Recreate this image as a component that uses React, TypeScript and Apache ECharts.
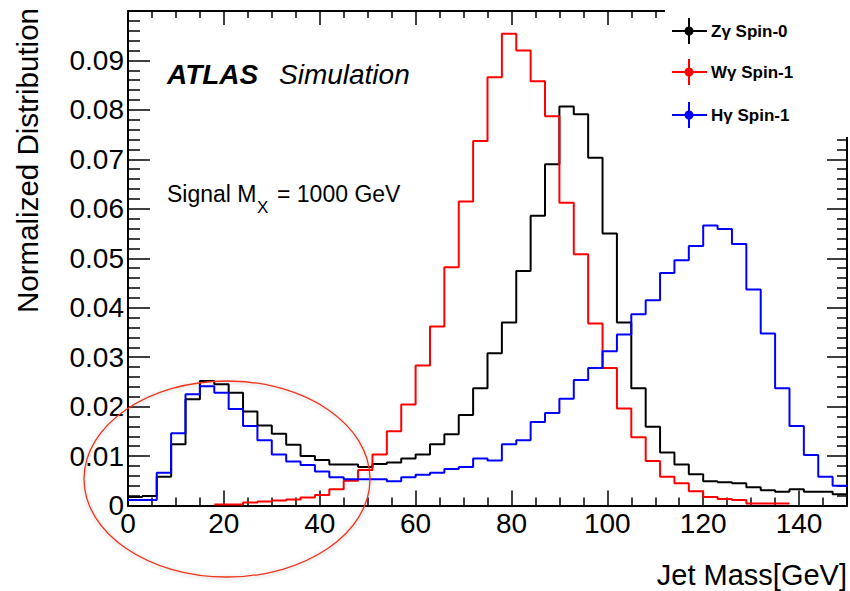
import React, { useEffect, useRef } from 'react';
import * as echarts from 'echarts';

// Jet mass histograms, 3 GeV bins from 0 to 150 GeV (normalized to unit area)
const binWidth = 3;

const zgSpin0: (number | null)[] = [
  0.0017, 0.0019, 0.0058, 0.0124, 0.0215, 0.0252, 0.0245, 0.0228, 0.019, 0.0162,
  0.0145, 0.0123, 0.01, 0.0092, 0.0083, 0.0083, 0.0078, 0.0084, 0.0087, 0.0095,
  0.0103, 0.0124, 0.0144, 0.0183, 0.0237, 0.0308, 0.037, 0.0474, 0.0586, 0.069,
  0.0807, 0.0791, 0.0703, 0.055, 0.037, 0.0237, 0.0159, 0.0107, 0.0083, 0.0063,
  0.0049, 0.0047, 0.0045, 0.0037, 0.0031, 0.0028, 0.0033, 0.0028, 0.0028, 0.0023,
];

const wgSpin1: (number | null)[] = [
  null, null, null, null, null, null, 0.0002, 0.0002, 0.0006, 0.0008,
  0.001, 0.0012, 0.0016, 0.0021, 0.0033, 0.005, 0.0072, 0.0103, 0.015, 0.0204,
  0.0283, 0.0362, 0.0482, 0.0615, 0.0737, 0.0866, 0.0954, 0.092, 0.0858, 0.0787,
  0.0612, 0.0508, 0.0368, 0.0278, 0.0196, 0.0138, 0.009, 0.0058, 0.0045, 0.0029,
  0.0017, 0.0013, 0.0011, 0.0004, 0.0004, 0.0004, null, null, null, null,
];

const hgSpin1: (number | null)[] = [
  0.0011, 0.0011, 0.0066, 0.0146, 0.0225, 0.0241, 0.0228, 0.0195, 0.0161, 0.0132,
  0.0103, 0.0089, 0.0082, 0.0069, 0.0057, 0.0053, 0.0053, 0.0053, 0.0049, 0.0057,
  0.0062, 0.0066, 0.0074, 0.0078, 0.0095, 0.0091, 0.0124, 0.0132, 0.0169, 0.0187,
  0.0216, 0.0254, 0.0278, 0.0312, 0.0346, 0.0387, 0.0415, 0.047, 0.0496, 0.0525,
  0.0566, 0.0559, 0.0529, 0.0437, 0.0348, 0.0237, 0.0161, 0.0102, 0.0058, 0.004,
];

const seriesNames = ['Zγ Spin-0', 'Wγ Spin-1', 'Hγ Spin-1'];
const seriesColors = ['#000000', '#ff0000', '#0000ff'];
const seriesValues = [zgSpin0, wgSpin1, hgSpin1];

const FONT = '"Liberation Sans", Arial, Helvetica, sans-serif';

// Turn per-bin contents into the outline of a step histogram
function toSteps(values: (number | null)[]): [number, number][] {
  const pts: [number, number][] = [];
  values.forEach((v, i) => {
    if (v === null) return;
    pts.push([i * binWidth, v], [(i + 1) * binWidth, v]);
  });
  return pts;
}

const frameLine = { show: true, onZero: false, lineStyle: { color: '#000', width: 2 } };

export default function App() {
  const ref = useRef<HTMLDivElement>(null);

  useEffect(() => {
    if (!ref.current) return;
    const chart = echarts.init(ref.current, undefined, { renderer: 'svg' });

    const legendRows = [31, 72, 115];
    const legendGraphics: any[] = [
      { type: 'rect', z: 100, shape: { x: 665, y: 0, width: 185, height: 137 }, style: { fill: '#fff' } },
    ];
    seriesNames.forEach((name, i) => {
      const y = legendRows[i];
      const c = seriesColors[i];
      legendGraphics.push(
        { type: 'line', z: 101, shape: { x1: 672, y1: y, x2: 707, y2: y }, style: { stroke: c, lineWidth: 2 } },
        { type: 'line', z: 101, shape: { x1: 689, y1: y - 13, x2: 689, y2: y + 13 }, style: { stroke: c, lineWidth: 2 } },
        { type: 'circle', z: 102, shape: { cx: 689, cy: y, r: 4.5 }, style: { fill: c } },
        {
          type: 'text', z: 102, x: 711, y,
          style: { text: name, fontFamily: FONT, fontSize: 17, fontWeight: 'bold', fill: '#000', align: 'left', verticalAlign: 'middle' },
        },
      );
    });

    chart.setOption({
      animation: false,
      backgroundColor: '#fff',
      grid: { left: 128, top: 11, width: 719, height: 494.5, containLabel: false },
      xAxis: [
        {
          type: 'value', position: 'bottom', min: 0, max: 150, interval: 20,
          axisLine: frameLine,
          axisTick: { show: true, inside: true, length: 15, lineStyle: { color: '#000', width: 1.5 } },
          minorTick: { show: true, splitNumber: 4, length: 8, lineStyle: { color: '#000', width: 1.5 } },
          axisLabel: { show: true, fontFamily: FONT, fontSize: 28, color: '#000', margin: 4, showMaxLabel: false },
          splitLine: { show: false },
        },
        {
          type: 'value', position: 'top', min: 0, max: 150, interval: 20,
          axisLine: frameLine,
          axisTick: { show: true, inside: true, length: 14, lineStyle: { color: '#000', width: 1.5 } },
          minorTick: { show: true, splitNumber: 4, length: 7, lineStyle: { color: '#000', width: 1.5 } },
          axisLabel: { show: false },
          splitLine: { show: false },
        },
      ],
      yAxis: [
        {
          type: 'value', position: 'left', min: 0, max: 0.1, interval: 0.01,
          axisLine: frameLine,
          axisTick: { show: true, inside: true, length: 22, lineStyle: { color: '#000', width: 1.5 } },
          minorTick: { show: true, splitNumber: 5, length: 12, lineStyle: { color: '#000', width: 1.5 } },
          axisLabel: {
            show: true, fontFamily: FONT, fontSize: 28, color: '#000', margin: 4, showMaxLabel: false,
            formatter: (v: number) => (v === 0 ? '0' : v.toFixed(2)),
          },
          splitLine: { show: false },
        },
        {
          type: 'value', position: 'right', min: 0, max: 0.1, interval: 0.01,
          axisLine: frameLine,
          axisTick: { show: true, inside: true, length: 20, lineStyle: { color: '#000', width: 1.5 } },
          minorTick: { show: true, splitNumber: 5, length: 10, lineStyle: { color: '#000', width: 1.5 } },
          axisLabel: { show: false },
          splitLine: { show: false },
        },
      ],
      series: seriesValues.map((vals, i) => ({
        type: 'line',
        name: seriesNames[i],
        xAxisIndex: 0,
        yAxisIndex: 0,
        data: toSteps(vals),
        showSymbol: false,
        symbol: 'none',
        lineStyle: { color: seriesColors[i], width: 2 },
        z: 3 + i,
      })),
      graphic: [
        // axis titles
        {
          type: 'text', z: 100, x: 27, y: 8, rotation: Math.PI / 2,
          style: { text: 'Normalized Distribution', fontFamily: FONT, fontSize: 29.5, fill: '#000', align: 'right', verticalAlign: 'middle' },
        },
        {
          type: 'text', z: 100, x: 847, y: 575,
          style: { text: 'Jet Mass[GeV]', fontFamily: FONT, fontSize: 29, fill: '#000', align: 'right', verticalAlign: 'middle' },
        },
        // experiment label
        {
          type: 'text', z: 100, x: 167, y: 74,
          style: { text: 'ATLAS', fontFamily: FONT, fontSize: 28, fontStyle: 'italic', fontWeight: 'bold', fill: '#000', align: 'left', verticalAlign: 'middle' },
        },
        {
          type: 'text', z: 100, x: 279, y: 74,
          style: { text: 'Simulation', fontFamily: FONT, fontSize: 28, fontStyle: 'italic', fill: '#000', align: 'left', verticalAlign: 'middle' },
        },
        // signal mass
        {
          type: 'text', z: 100, x: 167, y: 194,
          style: { text: 'Signal M', fontFamily: FONT, fontSize: 23, fill: '#000', align: 'left', verticalAlign: 'middle' },
        },
        {
          type: 'text', z: 100, x: 257, y: 207,
          style: { text: 'X', fontFamily: FONT, fontSize: 17, fill: '#000', align: 'left', verticalAlign: 'middle' },
        },
        {
          type: 'text', z: 100, x: 277, y: 194,
          style: { text: '= 1000 GeV', fontFamily: FONT, fontSize: 23, fill: '#000', align: 'left', verticalAlign: 'middle' },
        },
        // highlight of the low-mass region
        {
          type: 'ellipse', z: 110,
          shape: { cx: 227, cy: 479, rx: 143, ry: 98 },
          style: {
            fill: 'none', stroke: '#f0341c', lineWidth: 1.3,
            shadowBlur: 4, shadowColor: 'rgba(0,0,0,0.25)', shadowOffsetY: 1,
          },
        },
        ...legendGraphics,
      ],
    });

    return () => chart.dispose();
  }, []);

  return (
    <div
      ref={ref}
      style={{ position: 'fixed', left: 0, top: 0, width: 850, height: 591, background: '#fff' }}
    />
  );
}
